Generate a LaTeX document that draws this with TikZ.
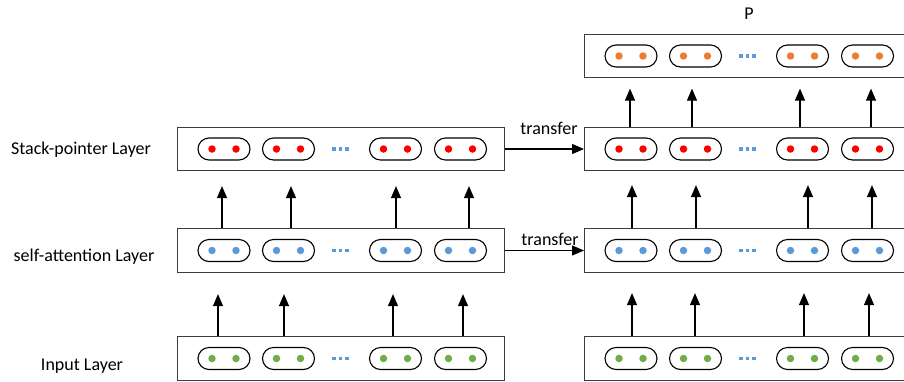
\documentclass[tikz,border=0pt]{standalone}
\usepackage{fontspec}
\setmainfont{Carlito}
\usetikzlibrary{arrows.meta,shapes.misc}
\definecolor{dred}{RGB}{255,0,0}
\definecolor{dblue}{RGB}{91,155,213}
\definecolor{dgreen}{RGB}{112,173,71}
\definecolor{dorange}{RGB}{237,125,49}
\definecolor{boxline}{RGB}{60,60,60}
\tikzset{
  layerbox/.style={draw=boxline, line width=1.3pt, minimum width=327pt, minimum height=43.5pt, inner sep=0pt, fill=white},
  pill/.style={draw=black, line width=1.1pt, rounded rectangle, minimum width=52pt, minimum height=22pt, inner sep=0pt},
  dotc/.style={circle, inner sep=0pt, minimum size=7.5pt},
  ell/.style={fill=dblue, inner sep=0pt, minimum width=3.2pt, minimum height=3.2pt},
  arr/.style={line width=1.2pt, -{Triangle[length=12pt,width=10pt]}},
  lbl/.style={font=\fontsize{18}{20}\selectfont, inner sep=0pt},
}
\newcommand\mklayer[4]{%
  \node[layerbox, anchor=west] (#1) at (#2,#3) {};
  \foreach \i/\dx in {1/47,2/111.5,4/218.5,5/283.5} {
    \node[pill] (#1-p\i) at (#2+\dx,#3) {};
    \node[dotc, fill=#4] (#1-p\i-a) at (#2+\dx-12,#3) {};
    \node[dotc, fill=#4] (#1-p\i-b) at (#2+\dx+12,#3) {};
  }
  \node[ell] (#1-e1) at (#2+157,#3) {};
  \node[ell] (#1-e2) at (#2+163.5,#3) {};
  \node[ell] (#1-e3) at (#2+170,#3) {};
}
\begin{document}
\begin{tikzpicture}[x=1pt,y=-1pt]
\useasboundingbox (0,0) rectangle (904,381);
% left column
\mklayer{sL}{177}{149}{dred}
\mklayer{aL}{177}{250.5}{dblue}
\mklayer{iL}{177}{358.5}{dgreen}
% right column
\mklayer{pR}{584}{56}{dorange}
\mklayer{sR}{584}{149}{dred}
\mklayer{aR}{584}{250.5}{dblue}
\mklayer{iR}{584}{358.5}{dgreen}
% labels
\node[lbl] (tS) at (81,150) {Stack-pointer Layer};
\node[lbl] (tA) at (84,257) {self-attention Layer};
\node[lbl] (tI) at (82,366) {Input Layer};
\node[lbl] (tP) at (749,14) {P};
% left arrows
\foreach \dx in {41,107,216,286} \draw[arr] ([xshift=\dx pt]iL.north west) -- ++(0,-42);
\foreach \dx in {45,114,219,292} \draw[arr] ([xshift=\dx pt]aL.north west) -- ++(0,-42);
% right arrows
\foreach \dx in {48,111,220,285} \draw[arr] ([xshift=\dx pt]iR.north west) -- ++(0,-43);
\foreach \dx in {48,112,224,288} \draw[arr] ([xshift=\dx pt]aR.north west) -- ++(0,-43);
\foreach \dx in {46,108,216,287} \draw[arr] ([xshift=\dx pt]sR.north west) -- ++(0,-38);
% transfer
\draw[arr] (sL.east) -- (sR.west);
\draw[arr] (aL.east) -- (aR.west);
\node[lbl] (tr1) at (549,128) {transfer};
\node[lbl] (tr2) at (550,239) {transfer};
\end{tikzpicture}
\end{document}
